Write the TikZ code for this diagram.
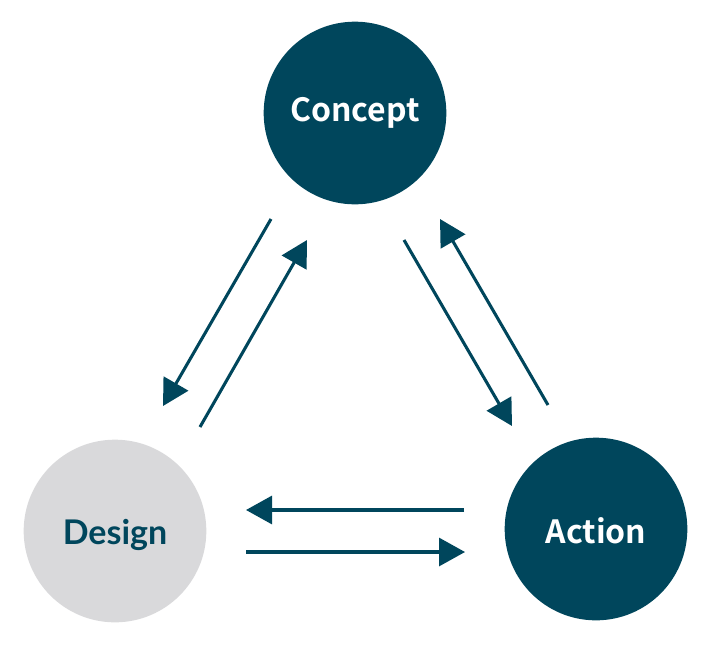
\documentclass[tikz,border=0pt]{standalone}
\usepackage{fontspec}
\newfontfamily\jpbold{Noto Sans CJK JP Bold}
\newfontfamily\latofont{Lato}
\usetikzlibrary{arrows.meta}
\definecolor{teal}{HTML}{00465C}
\definecolor{lgray}{HTML}{D9D9DB}
\begin{document}
\begin{tikzpicture}[x=0.75pt,y=-0.75pt,
  circ/.style={circle,minimum size=137pt,inner sep=0pt},
  darkc/.style={circ,fill=teal,text=white,font=\jpbold\fontsize{24}{28}\selectfont},
  lightc/.style={circ,fill=lgray,text=teal,font=\latofont\bfseries\fontsize{25.5}{30}\selectfont},
  flow/.style={draw=teal,line width=2.3pt,-{Triangle[length=19.5pt,width=21pt]}}]
\useasboundingbox (0,0) rectangle (720,650);
\node[darkc] (concept) at (355,113) {Concept};
\node[lightc] (design) at (115,531) {\raisebox{-3pt}[\height][\depth]{Design}};
\node[darkc] (action) at (596,529) {\raisebox{-1.5pt}[\height][\depth]{Action}};
% endpoints
\coordinate (cd1) at (271,219);
\coordinate (cd2) at (163,406);
\coordinate (dc1) at (200,427);
\coordinate (dc2) at (307,240);
\coordinate (ca1) at (404,240);
\coordinate (ca2) at (512,426);
\coordinate (ac1) at (548,405);
\coordinate (ac2) at (440,219);
\coordinate (ad1) at (464,510);
\coordinate (ad2) at (246,510);
\coordinate (da1) at (246,552);
\coordinate (da2) at (465,552);
\draw[flow] (cd1) -- (cd2);
\draw[flow] (dc1) -- (dc2);
\draw[flow] (ca1) -- (ca2);
\draw[flow] (ac1) -- (ac2);
\draw[flow] (ad1) -- (ad2);
\draw[flow] (da1) -- (da2);
\end{tikzpicture}
\end{document}
